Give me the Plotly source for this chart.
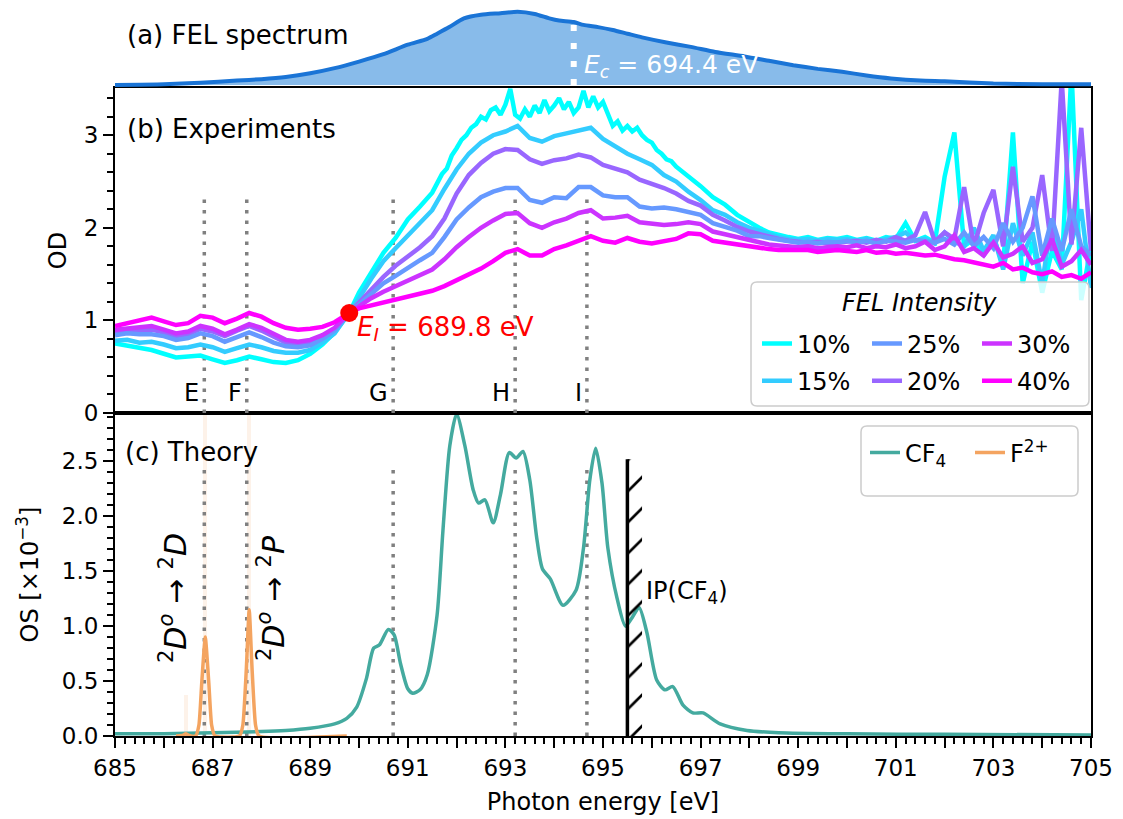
import plotly.graph_objects as go

# ---------------- data ----------------
energy_exp = [685.00, 685.25, 685.50, 685.75, 686.00, 686.25, 686.50, 686.75, 687.00, 687.25,
              687.50, 687.75, 688.00, 688.25, 688.50, 688.75, 689.00, 689.25, 689.50, 689.80,
              690.00, 690.25, 690.50, 690.75, 691.00, 691.25, 691.50, 691.75, 692.00, 692.25,
              692.50, 692.75, 693.00, 693.25, 693.50, 693.75, 694.00, 694.25, 694.50, 694.75,
              695.00, 695.25, 695.50, 695.75, 696.00, 696.25, 696.50, 696.75, 697.00, 697.25,
              697.50, 697.75, 698.00,
              698.2, 698.4, 698.6, 698.8, 699.0, 699.2, 699.4, 699.6, 699.8, 700.0,
              700.2, 700.4, 700.6, 700.8, 701.0, 701.2, 701.4, 701.6, 701.8, 702.0,
              702.2, 702.4, 702.6, 702.8, 703.0, 703.2, 703.4, 703.6, 703.8, 704.0,
              704.2, 704.4, 704.6, 704.8, 705.0]

# the 10% curve is sampled more finely around its noisy maximum
energy_10 = [685.00, 685.25, 685.50, 685.75, 686.00, 686.25, 686.50, 686.75, 687.00, 687.25,
             687.50, 687.75, 688.00, 688.25, 688.50, 688.75, 689.00, 689.25, 689.50, 689.80,
             690.00, 690.25, 690.50, 690.75, 691.00, 691.25, 691.50,
             691.6, 691.7, 691.8, 691.9, 692.0, 692.1, 692.2, 692.3, 692.4, 692.5,
             692.6, 692.7, 692.8, 692.9, 693.0, 693.1, 693.2, 693.3, 693.4, 693.5,
             693.6, 693.7, 693.8, 693.9, 694.0, 694.1, 694.2, 694.3, 694.4, 694.5,
             694.6, 694.7, 694.8, 694.9, 695.0, 695.1, 695.2, 695.3, 695.4, 695.5,
             695.6, 695.7, 695.8, 695.9, 696.0, 696.1, 696.2, 696.3, 696.4, 696.5,
             696.6, 696.7, 696.8, 696.9, 697.0,
             697.25, 697.50, 697.75, 698.00,
             698.2, 698.4, 698.6, 698.8, 699.0, 699.2, 699.4, 699.6, 699.8, 700.0,
             700.2, 700.4, 700.6, 700.8, 701.0, 701.2, 701.4, 701.6, 701.8, 702.0,
             702.2, 702.4, 702.6, 702.8, 703.0, 703.2, 703.4, 703.6, 703.8, 704.0,
             704.2, 704.4, 704.6, 704.8, 705.0]

od_10 = [0.75, 0.73, 0.70, 0.68, 0.64, 0.60, 0.61, 0.62, 0.58, 0.54,
         0.57, 0.61, 0.58, 0.55, 0.54, 0.57, 0.64, 0.74, 0.87, 1.08,
         1.30, 1.52, 1.73, 1.89, 2.09, 2.23, 2.38,
         2.48, 2.58, 2.64, 2.78, 2.86, 2.95, 3.00, 3.08, 3.12, 3.20,
         3.17, 3.27, 3.30, 3.22, 3.33, 3.50, 3.22, 3.18, 3.28, 3.20,
         3.32, 3.24, 3.38, 3.26, 3.32, 3.40, 3.28, 3.36, 3.24, 3.30,
         3.48, 3.30, 3.42, 3.30, 3.36, 3.22, 3.10, 3.15, 3.05, 3.10,
         3.04, 3.08, 3.00, 2.95, 2.92, 2.84, 2.80, 2.74, 2.72, 2.66,
         2.62, 2.57, 2.53, 2.49, 2.45,
         2.33, 2.25, 2.14, 2.06,
         2.00, 1.95, 1.92, 1.90, 1.88, 1.90, 1.87, 1.89, 1.88, 1.90,
         1.87, 1.89, 1.86, 1.90, 1.88, 2.05, 1.86, 1.90, 1.84, 2.55,
         3.03, 1.80, 1.88, 1.70, 1.90, 1.60, 3.03, 1.40, 1.85, 1.30,
         1.75, 1.55, 3.70, 1.22, 1.80]

od_15 = [0.78, 0.79, 0.76, 0.77, 0.74, 0.70, 0.71, 0.74, 0.71, 0.66,
         0.70, 0.74, 0.71, 0.67, 0.65, 0.65, 0.68, 0.76, 0.86, 1.08,
         1.24, 1.45, 1.64, 1.78, 1.92, 2.05, 2.19, 2.42, 2.63, 2.80,
         2.92, 3.00, 3.04, 3.10, 2.97, 2.93, 2.99, 3.02, 3.05, 3.08,
         2.96, 2.88, 2.80, 2.74, 2.68, 2.57, 2.50, 2.39, 2.30, 2.19,
         2.14, 2.06, 2.00,
         1.97, 1.93, 1.90, 1.88, 1.87, 1.88, 1.86, 1.88, 1.87, 1.88,
         1.86, 1.88, 1.85, 1.88, 1.90, 1.95, 1.86, 1.88, 1.83, 1.95,
         1.85, 1.80, 2.00, 1.75, 1.92, 1.55, 2.05, 1.70, 1.95, 1.40,
         2.10, 1.60, 1.85, 2.20, 1.35]

od_20 = [0.87, 0.89, 0.89, 0.90, 0.87, 0.83, 0.85, 0.91, 0.88, 0.83,
         0.89, 0.94, 0.89, 0.82, 0.76, 0.74, 0.76, 0.82, 0.90, 1.08,
         1.19, 1.33, 1.47, 1.59, 1.69, 1.79, 1.91, 2.10, 2.37, 2.57,
         2.70, 2.80, 2.85, 2.84, 2.74, 2.69, 2.73, 2.75, 2.79, 2.76,
         2.68, 2.64, 2.60, 2.52, 2.48, 2.43, 2.37, 2.29, 2.24, 2.14,
         2.08, 2.01, 1.96,
         1.93, 1.90, 1.88, 1.86, 1.85, 1.84, 1.85, 1.83, 1.84, 1.85,
         1.86, 1.84, 1.87, 1.85, 1.90, 1.86, 1.92, 2.17, 1.85, 1.95,
         1.88, 2.44, 1.80, 2.16, 2.41, 1.80, 2.66, 1.85, 2.00, 2.57,
         1.75, 3.60, 1.82, 3.08, 1.75]

od_25 = [0.84, 0.86, 0.85, 0.85, 0.83, 0.79, 0.81, 0.86, 0.83, 0.77,
         0.82, 0.87, 0.82, 0.76, 0.72, 0.71, 0.73, 0.80, 0.89, 1.08,
         1.17, 1.29, 1.40, 1.48, 1.57, 1.65, 1.73, 1.90, 2.09, 2.22,
         2.33, 2.39, 2.43, 2.43, 2.30, 2.27, 2.33, 2.32, 2.44, 2.44,
         2.35, 2.33, 2.33, 2.23, 2.21, 2.22, 2.20, 2.17, 2.14, 2.05,
         2.01, 1.97, 1.91,
         1.91, 1.89, 1.87, 1.85, 1.84, 1.85, 1.83, 1.85, 1.84, 1.86,
         1.84, 1.86, 1.83, 1.86, 1.85, 1.84, 1.87, 1.86, 1.84, 1.88,
         1.82, 1.95, 1.80, 1.90, 1.78, 2.05, 1.85, 2.00, 2.34, 1.70,
         2.10, 1.75, 2.20, 1.80, 1.70]

od_30 = [0.90, 0.91, 0.92, 0.94, 0.90, 0.86, 0.88, 0.94, 0.91, 0.85,
         0.90, 0.96, 0.92, 0.85, 0.79, 0.77, 0.79, 0.84, 0.92, 1.08,
         1.15, 1.24, 1.31, 1.37, 1.43, 1.49, 1.55, 1.66, 1.79, 1.90,
         2.00, 2.08, 2.15, 2.16, 2.05, 2.00, 2.06, 2.10, 2.16, 2.19,
         2.10, 2.11, 2.13, 2.06, 2.04, 2.03, 2.04, 2.06, 2.04, 1.96,
         1.93, 1.90, 1.87,
         1.84, 1.82, 1.81, 1.80, 1.79, 1.80, 1.78, 1.79, 1.80, 1.79,
         1.81, 1.78, 1.80, 1.79, 1.82, 1.78, 1.80, 1.85, 1.76, 1.80,
         1.92, 1.74, 1.78, 1.70, 1.84, 1.68, 1.72, 1.80, 1.62, 1.66,
         1.88, 1.58, 1.64, 1.76, 1.60]

od_40 = [0.94, 0.97, 0.99, 1.03, 0.99, 0.95, 0.97, 1.05, 1.03, 0.97,
         1.02, 1.08, 1.04, 0.97, 0.92, 0.90, 0.91, 0.93, 0.98, 1.08,
         1.13, 1.16, 1.19, 1.23, 1.26, 1.28, 1.32, 1.37, 1.43, 1.49,
         1.56, 1.64, 1.73, 1.77, 1.70, 1.70, 1.77, 1.81, 1.86, 1.91,
         1.86, 1.84, 1.89, 1.85, 1.83, 1.86, 1.88, 1.94, 1.93, 1.86,
         1.84, 1.81, 1.80,
         1.78, 1.77, 1.76, 1.76, 1.75, 1.76, 1.74, 1.75, 1.76, 1.75,
         1.74, 1.76, 1.73, 1.74, 1.72, 1.73, 1.72, 1.70, 1.71, 1.68,
         1.66, 1.65, 1.63, 1.60, 1.58, 1.62, 1.55, 1.57, 1.52, 1.50,
         1.53, 1.47, 1.49, 1.45, 1.52]

intensity_labels = ["10%", "15%", "20%", "25%", "30%", "40%"]
intensity_colors = ["#00ffff", "#33ccff", "#9966ff", "#6699ff", "#cc33ff", "#ff00ff"]

fel_energy = [685.0, 686.0, 686.75, 687.5, 688.0, 688.5, 689.0, 689.5, 690.0, 690.5,
              691.0, 691.4, 691.6, 691.85, 692.15, 692.5, 692.9, 693.25, 693.6, 693.9,
              694.1, 694.4, 694.6, 694.9, 695.2, 695.5, 695.8, 696.3, 696.8, 697.3,
              697.9, 698.4, 698.9, 699.4, 699.9, 700.4, 700.9, 701.5, 702.0, 703.0,
              704.0, 705.0]
fel_intensity = [0.00, 0.01, 0.03, 0.06, 0.08, 0.11, 0.16, 0.23, 0.32, 0.42,
                 0.55, 0.63, 0.70, 0.79, 0.91, 0.96, 0.98, 1.00, 0.97, 0.91,
                 0.88, 0.86, 0.82, 0.79, 0.75, 0.70, 0.65, 0.58, 0.52, 0.45,
                 0.39, 0.33, 0.27, 0.22, 0.18, 0.13, 0.09, 0.06, 0.05, 0.02,
                 0.01, 0.01]

th_energy_cf4 = [685.0, 686.0, 687.0, 688.0, 688.5, 689.0, 689.5, 689.75, 689.95, 690.15,
                 690.3, 690.42, 690.6, 690.72, 690.85, 691.0, 691.1, 691.25, 691.4, 691.6,
                 691.72, 691.86, 692.0, 692.17, 692.34, 692.45, 692.58, 692.75, 692.9, 693.08,
                 693.22, 693.36, 693.5, 693.64, 693.76, 693.92, 694.18, 694.45, 694.6, 694.73,
                 694.85, 694.98, 695.1, 695.29, 695.46, 695.6, 695.74, 695.9, 696.1, 696.27,
                 696.43, 696.64, 696.84, 697.05, 697.4, 697.95, 698.6, 700.0, 702.0, 705.0]
os_cf4 = [0.02, 0.02, 0.03, 0.04, 0.05, 0.07, 0.11, 0.16, 0.26, 0.52,
          0.80, 0.83, 0.97, 0.92, 0.66, 0.43, 0.39, 0.42, 0.56, 1.10,
          1.87, 2.64, 2.93, 2.64, 2.24, 2.12, 2.15, 1.94, 2.20, 2.58,
          2.53, 2.59, 2.33, 1.81, 1.52, 1.43, 1.19, 1.33, 1.71, 2.33,
          2.62, 2.30, 1.71, 1.25, 1.00, 1.08, 1.17, 0.94, 0.51, 0.42,
          0.45, 0.28, 0.21, 0.21, 0.11, 0.05, 0.03, 0.02, 0.015, 0.01]

th_energy_f2 = [686.25, 686.38, 686.45, 686.52, 686.65, 686.72, 686.78, 686.85, 686.92, 686.98,
                687.05, 687.55, 687.62, 687.69, 687.75, 687.81, 687.88, 687.95, 689.75]
os_f2 = [0.0, 0.005, 0.02, 0.005, 0.0, 0.1, 0.5, 0.90, 0.5, 0.1,
         0.0, 0.0, 0.1, 0.6, 1.15, 0.6, 0.1, 0.0, 0.0]

stick_energy_f2 = [686.45, 686.85, 687.75]
stick_os_f2 = [0.37, 4.0, 4.0]

feature_energy = [686.83, 687.70, 690.70, 693.20, 694.67]
feature_label = ["E", "F", "G", "H", "I"]
feature_top_od = 2.35
feature_top_os = 2.47

E_c = 694.4
E_c_top = 0.82
E_I = 689.8
OD_I = 1.08
IP_cf4 = 695.5
IP_top = 2.52
IP_hatch_w = 0.3

x_ticks = list(range(685, 706))
x_ticklabels = [str(v) if v % 2 == 1 else "" for v in x_ticks]
od_ticks = [0, 1, 2, 3]
os_ticks = [0.0, 0.5, 1.0, 1.5, 2.0, 2.5]
os_ticklabels = ["0.0", "0.5", "1.0", "1.5", "2.0", "2.5"]

# ---------------- geometry helpers (pixel -> paper) ----------------
W, H = 1123, 819
L, R, T, B = 115, 1091, 0, 736


def fx(p):
    return (p - L) / (R - L)


def fy(p):
    return (B - p) / (B - T)


dom_c = [0, fy(413)]
dom_b = [fy(413), fy(88)]
dom_a = [fy(88), 1]

FONT = "DejaVu Sans"
fig = go.Figure()

# ---- panel (a): FEL spectrum ----
fig.add_trace(go.Scatter(x=fel_energy, y=fel_intensity, xaxis="x3", yaxis="y3", mode="lines",
                         line=dict(color="#1a74d6", width=4, shape="spline", smoothing=0.6),
                         fill="tozeroy", fillcolor="#88bbea", showlegend=False, hoverinfo="skip"))
fig.add_trace(go.Scatter(x=[E_c, E_c], y=[0, E_c_top], xaxis="x3", yaxis="y3", mode="lines",
                         line=dict(color="white", width=6, dash="6px,12px"), showlegend=False))

# ---- panel (b): experiments ----
vx, vy = [], []
for e in feature_energy:
    vx += [e, e, None]
    vy += [0, feature_top_od, None]
fig.add_trace(go.Scatter(x=vx, y=vy, xaxis="x2", yaxis="y2", mode="lines",
                         line=dict(color="#808080", width=3.5, dash="3.5px,7px"), showlegend=False))

series = [od_10, od_15, od_20, od_25, od_30, od_40]
xs = [energy_10, energy_exp, energy_exp, energy_exp, energy_exp, energy_exp]
legend_of = {"10%": "legend", "15%": "legend", "25%": "legend2", "20%": "legend2",
             "30%": "legend3", "40%": "legend3"}
rank_of = {"10%": 1, "15%": 2, "25%": 1, "20%": 2, "30%": 1, "40%": 2}
for lab, col, xx, ys in zip(intensity_labels, intensity_colors, xs, series):
    fig.add_trace(go.Scatter(x=xx, y=ys, xaxis="x2", yaxis="y2", mode="lines", name=lab,
                             line=dict(color=col, width=4.5), legend=legend_of[lab],
                             legendgroup=lab, legendrank=rank_of[lab]))

fig.add_trace(go.Scatter(x=[E_I], y=[OD_I], xaxis="x2", yaxis="y2", mode="markers",
                         marker=dict(color="red", size=18), showlegend=False))

# ---- panel (c): theory ----
fig.add_trace(go.Bar(x=stick_energy_f2, y=stick_os_f2, xaxis="x", yaxis="y", width=0.09,
                     marker=dict(color="rgba(244,164,96,0.14)", line=dict(width=0)),
                     showlegend=False))
vx, vy = [], []
for e in feature_energy:
    vx += [e, e, None]
    vy += [0, feature_top_os, None]
fig.add_trace(go.Scatter(x=vx, y=vy, xaxis="x", yaxis="y", mode="lines",
                         line=dict(color="#808080", width=3.5, dash="3.5px,7px"), showlegend=False))
fig.add_trace(go.Scatter(x=th_energy_cf4, y=os_cf4, xaxis="x", yaxis="y", mode="lines",
                         name="CF<sub>4</sub>", legend="legend4",
                         line=dict(color="#44aa9f", width=3.5, shape="spline", smoothing=0.7)))
fig.add_trace(go.Scatter(x=th_energy_f2, y=os_f2, xaxis="x", yaxis="y", mode="lines",
                         name="F<sup>2+</sup>", legend="legend5",
                         line=dict(color="#f4a460", width=3.5, shape="spline", smoothing=0.5)))
# ionisation potential: hatched band + line
fig.add_trace(go.Scatter(x=[IP_cf4, IP_cf4 + IP_hatch_w, IP_cf4 + IP_hatch_w, IP_cf4, IP_cf4],
                         y=[0, 0, IP_top, IP_top, 0], xaxis="x", yaxis="y", mode="lines",
                         line=dict(width=0, color="rgba(0,0,0,0)"), fill="toself",
                         fillcolor="rgba(0,0,0,0)",
                         fillpattern=dict(shape="/", size=22, solidity=0.12, fgcolor="black",
                                          bgcolor="rgba(0,0,0,0)"),
                         showlegend=False, hoverinfo="skip"))
fig.add_trace(go.Scatter(x=[IP_cf4, IP_cf4], y=[0, IP_top], xaxis="x", yaxis="y", mode="lines",
                         line=dict(color="black", width=3.5), showlegend=False))

# ---------------- layout ----------------
axis_common = dict(showline=True, linewidth=2, linecolor="black", mirror=True, showgrid=False,
                   zeroline=False, tickcolor="black", tickwidth=2, ticklen=10, ticks="outside",
                   tickfont=dict(size=23, family=FONT, color="black"), automargin=False)

fig.update_layout(
    width=W, height=H, template="none",
    margin=dict(l=L, r=W - R, t=T, b=H - B, pad=0),
    paper_bgcolor="white", plot_bgcolor="white",
    font=dict(family=FONT, size=24, color="black"),
    bargap=0,
    xaxis=dict(axis_common, domain=[0, 1], anchor="y", range=[685, 705], tickmode="array",
               tickvals=x_ticks, ticktext=x_ticklabels,
               minor=dict(dtick=0.2, tick0=685, ticks="outside", ticklen=6, tickwidth=1.5,
                          tickcolor="black", showgrid=False),
               title=dict(text="Photon energy [eV]", standoff=14, font=dict(size=24))),
    yaxis=dict(axis_common, domain=dom_c, anchor="x", range=[0, 2.94], tickmode="array",
               tickvals=os_ticks, ticktext=os_ticklabels,
               minor=dict(dtick=0.1, tick0=0, ticks="outside", ticklen=6, tickwidth=1.5,
                          tickcolor="black", showgrid=False),
               title=dict(text="OS [×10<sup>−3</sup>]", standoff=16, font=dict(size=24))),
    xaxis2=dict(axis_common, domain=[0, 1], anchor="y2", matches="x", range=[685, 705],
                showticklabels=False, ticks=""),
    yaxis2=dict(axis_common, domain=dom_b, anchor="x2", range=[0, 3.51], tickmode="array",
                tickvals=od_ticks,
                minor=dict(dtick=0.2, tick0=0, ticks="outside", ticklen=6, tickwidth=1.5,
                           tickcolor="black", showgrid=False),
                title=dict(text="OD", standoff=10, font=dict(size=24))),
    xaxis3=dict(domain=[0, 1], anchor="y3", matches="x", range=[685, 705], visible=False),
    yaxis3=dict(domain=dom_a, anchor="x3", range=[-0.041, 1.16], visible=False),
)

leg_common = dict(bgcolor="rgba(0,0,0,0)", borderwidth=0, font=dict(size=24, family=FONT),
                  xanchor="left", yanchor="middle", orientation="v", tracegroupgap=3,
                  itemclick=False, itemdoubleclick=False)
fig.update_layout(
    legend=dict(leg_common, x=fx(757), y=fy(362.5)),
    legend2=dict(leg_common, x=fx(867), y=fy(362.5)),
    legend3=dict(leg_common, x=fx(977), y=fy(362.5)),
    legend4=dict(leg_common, x=fx(865), y=fy(453)),
    legend5=dict(leg_common, x=fx(970), y=fy(453)),
)


def rounded_box(x0, y0, x1, y1, r=6):
    X = lambda p: fx(p)
    Y = lambda p: fy(p)
    return (f"M{X(x0 + r)},{Y(y0)} L{X(x1 - r)},{Y(y0)} Q{X(x1)},{Y(y0)} {X(x1)},{Y(y0 + r)} "
            f"L{X(x1)},{Y(y1 - r)} Q{X(x1)},{Y(y1)} {X(x1 - r)},{Y(y1)} "
            f"L{X(x0 + r)},{Y(y1)} Q{X(x0)},{Y(y1)} {X(x0)},{Y(y1 - r)} "
            f"L{X(x0)},{Y(y0 + r)} Q{X(x0)},{Y(y0)} {X(x0 + r)},{Y(y0)} Z")


fig.update_layout(shapes=[
    dict(type="path", xref="paper", yref="paper", path=rounded_box(751, 282, 1089, 406),
         fillcolor="rgba(255,255,255,0.8)", line=dict(color="#cccccc", width=1.5), layer="above"),
    dict(type="path", xref="paper", yref="paper", path=rounded_box(861, 426, 1078, 496),
         fillcolor="rgba(255,255,255,0.8)", line=dict(color="#cccccc", width=1.5), layer="above"),
])

ann = []
ann.append(dict(text="(a) FEL spectrum", x=fx(125), y=fy(35), xref="paper", yref="paper",
                xanchor="left", yanchor="middle", showarrow=False, font=dict(size=26)))
ann.append(dict(text="<i>E<sub>c</sub></i> = 694.4 eV", x=fx(582), y=fy(66), xref="paper",
                yref="paper", xanchor="left", yanchor="middle", showarrow=False,
                font=dict(size=25, color="white")))
ann.append(dict(text="(b) Experiments", x=fx(125), y=fy(129), xref="paper", yref="paper",
                xanchor="left", yanchor="middle", showarrow=False, font=dict(size=26)))
ann.append(dict(text="<i>E<sub>I</sub></i> = 689.8 eV", x=fx(355), y=fy(328), xref="paper",
                yref="paper", xanchor="left", yanchor="middle", showarrow=False,
                font=dict(size=26, color="red")))
for e, lab in zip(feature_energy, feature_label):
    ann.append(dict(text=lab, x=e, y=0.22, xref="x2", yref="y2", xanchor="right",
                    yanchor="middle", xshift=-3, showarrow=False, font=dict(size=24)))
ann.append(dict(text="<i>FEL Intensity</i>", x=fx(919), y=fy(303), xref="paper", yref="paper",
                xanchor="center", yanchor="middle", showarrow=False, font=dict(size=24)))
ann.append(dict(text="(c) Theory", x=fx(123), y=fy(452), xref="paper", yref="paper",
                xanchor="left", yanchor="middle", showarrow=False, font=dict(size=26)))
ann.append(dict(text="<sup>2</sup><i>D</i><sup><i>o</i></sup> → <sup>2</sup><i>D</i>",
                x=fx(173), y=fy(598), xref="paper", yref="paper", textangle=-90,
                xanchor="center", yanchor="middle", showarrow=False, font=dict(size=30)))
ann.append(dict(text="<sup>2</sup><i>D</i><sup><i>o</i></sup> → <sup>2</sup><i>P</i>",
                x=fx(271), y=fy(598), xref="paper", yref="paper", textangle=-90,
                xanchor="center", yanchor="middle", showarrow=False, font=dict(size=30)))
ann.append(dict(text="IP(CF<sub>4</sub>)", x=fx(644), y=fy(592), xref="paper", yref="paper",
                xanchor="left", yanchor="middle", showarrow=False, font=dict(size=24)))
fig.update_layout(annotations=ann)

fig.write_html("out.html")
